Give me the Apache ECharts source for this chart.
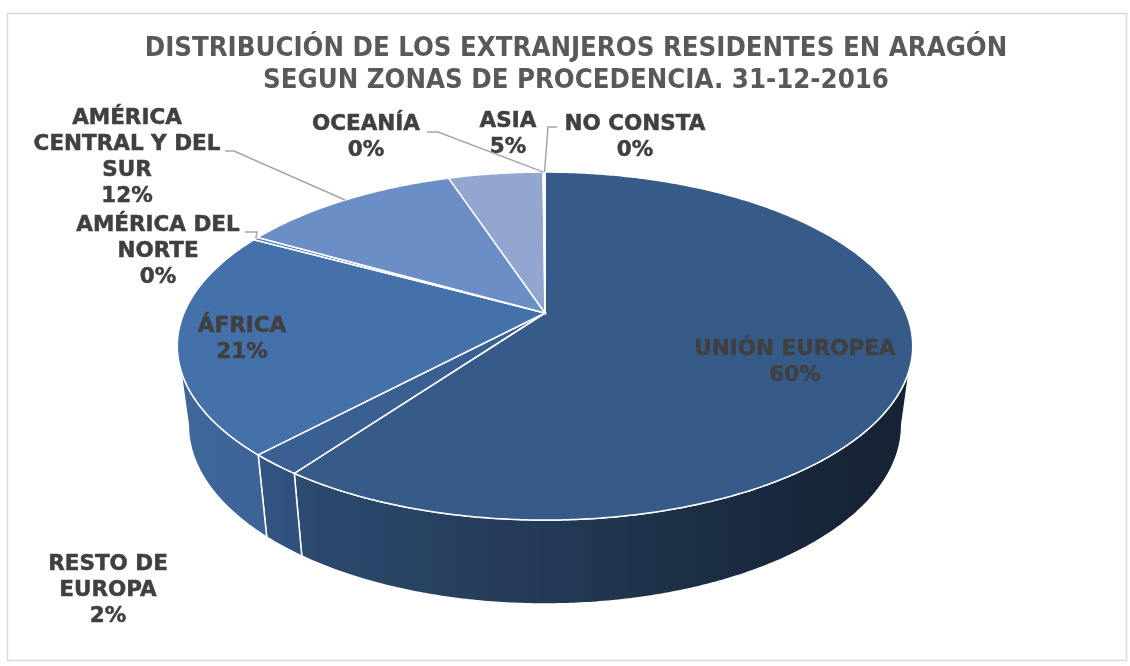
<!DOCTYPE html>
<html><head><meta charset="utf-8">
<script src="https://cdn.jsdelivr.net/npm/echarts@6/dist/echarts.min.js"></script>
<style>html,body{margin:0;padding:0;background:#fff}#c{width:1130px;height:666px}</style>
</head><body><div id="c"></div>
<script>
// ---- data ----
const categories = ['UNIÓN EUROPEA','RESTO DE EUROPA','ÁFRICA','AMÉRICA DEL NORTE','AMÉRICA CENTRAL Y DEL SUR','ASIA','OCEANÍA','NO CONSTA'];
const shares = [60.0, 2.0, 20.9, 0.3, 11.7, 5.0, 0.05, 0.05];
const labelNames = [['UNIÓN EUROPEA'],['RESTO DE','EUROPA'],['ÁFRICA'],['AMÉRICA DEL','NORTE'],['AMÉRICA','CENTRAL Y DEL','SUR'],['ASIA'],['OCEANÍA'],['NO CONSTA']];
const titleLines = ['DISTRIBUCIÓN DE LOS EXTRANJEROS RESIDENTES EN ARAGÓN','SEGUN ZONAS DE PROCEDENCIA. 31-12-2016'];

// ---- layout / style ----
const sliceColors = ['#375B88','#3A5F93','#4471AA','#5580BC','#6A8EC5','#92A6D0','#B4C2E0','#2B4770'];
const labelCenter = [[795,362],[108,590],[242,339],[158,251],[127,157.5],[508,134.5],[366,137.5],[635,137.5]];
const leaderStart = [null,null,null,[[245,232],[257,232]],[[225,151],[234,151]],null,[[427,132],[438,132]],[[557,127],[548,127]]];
const P = {cx:545, cy:313, R:361, Ry:167.7, e:0.19, h:78, hk:0.35, kx:0.97};
const shadeStops = [[177,0.92],[270,0.88],[320,0.80],[450,0.70],[545,0.64],[700,0.50],[850,0.40],[913,0.38]];
const labelFont = 'bold 21.5px "DejaVu Sans", Verdana, sans-serif';

const total = shares.reduce((a,b)=>a+b,0);
const starts = [], ends = [];
let acc = 0;
shares.forEach(v => { starts.push(acc/total*360); acc += v; ends.push(acc/total*360); });
// visible (front-facing) wall range: between the horizontal extremes of the top ellipse
const wallMin = Math.acos(-P.e)*180/Math.PI, wallMax = 360 - wallMin;

function proj(deg, bottom){
  const t = deg*Math.PI/180, u = Math.sin(t), w = -Math.cos(t);
  const p = 1/(1-P.e*w);
  let x = P.cx + P.R*u*p, y = P.cy + P.Ry*w*p;
  if (bottom){ x = P.cx + (x-P.cx)*P.kx; y += P.h*Math.pow(p, P.hk); }
  return [x, y];
}
function hexRgb(h){ return [1,3,5].map(k=>parseInt(h.substr(k,2),16)); }
function gradFor(col){
  const c = hexRgb(col), x0 = shadeStops[0][0], x1 = shadeStops[shadeStops.length-1][0];
  return new echarts.graphic.LinearGradient(x0,0,x1,0, shadeStops.map(s=>({
    offset:(s[0]-x0)/(x1-x0), color:'rgb('+c.map(v=>Math.round(v*s[1])).join(',')+')'})), true);
}
function arc(a0,a1,bottom,step){
  const n = Math.max(2, Math.ceil((a1-a0)/step)), pts=[];
  for (let k=0;k<=n;k++) pts.push(proj(a0+(a1-a0)*k/n, bottom));
  return pts;
}
const idx = shares.map((v,i)=>[i, v]);

const chart = echarts.init(document.getElementById('c'), null, {renderer:'canvas'});
chart.setOption({
  backgroundColor:'#fff',
  animation:false,
  title:{
    text: titleLines.join('\n'), left:571, top:28, textAlign:'center',
    textStyle:{fontFamily:'"DejaVu Sans Condensed", "DejaVu Sans", sans-serif', fontWeight:'bold', fontSize:27.3, lineHeight:32, color:'#595959'}
  },
  graphic:[{type:'rect', shape:{x:7.5,y:13.5,width:1119,height:647}, style:{fill:null, stroke:'#D9D9D9', lineWidth:1.5}, silent:true, z:-1}],
  series:[
    { type:'custom', coordinateSystem:'none', z:1, data: idx,
      renderItem:function(params){
        const i = params.dataIndex;
        const a0 = Math.max(starts[i],wallMin), a1 = Math.min(ends[i],wallMax);
        if (a1 <= a0) return null;
        const pts = arc(a0,a1,false,0.5).concat(arc(a0,a1,true,0.5).reverse());
        return {type:'polygon', shape:{points:pts}, style:{fill:gradFor(sliceColors[i]), stroke:'#fff', lineWidth:1.5}};
      }
    },
    { type:'custom', coordinateSystem:'none', z:2, data: idx,
      renderItem:function(params){
        const i = params.dataIndex;
        const pts = [[P.cx,P.cy]].concat(arc(starts[i],ends[i],false,0.5));
        return {type:'polygon', shape:{points:pts}, style:{fill:sliceColors[i], stroke:'#fff', lineWidth:1.5}};
      }
    },
    { type:'custom', coordinateSystem:'none', z:3, data: idx,
      renderItem:function(params){
        const i = params.dataIndex;
        const pct = Math.round(shares[i]/total*100) + '%';
        const children = [{type:'text', x:labelCenter[i][0], y:labelCenter[i][1],
          style:{text: labelNames[i].concat([pct]).join('\n'), font:labelFont, fill:'#404040', stroke:'#404040', lineWidth:0.5, align:'center', verticalAlign:'middle', lineHeight:26}}];
        if (leaderStart[i]){
          const m = proj((starts[i]+ends[i])/2, false);
          children.push({type:'polyline', shape:{points: leaderStart[i].concat([m])}, style:{stroke:'#A6A6A6', lineWidth:1.5, fill:null}});
        }
        return {type:'group', children};
      }
    }
  ]
});
</script></body></html>
